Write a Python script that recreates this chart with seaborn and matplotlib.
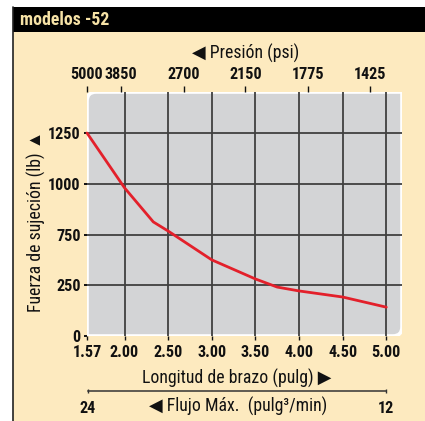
import numpy as np
import pandas as pd
import matplotlib
matplotlib.use("Agg")
import matplotlib.pyplot as plt
import seaborn as sns
from matplotlib.patches import Rectangle, PathPatch
from matplotlib.path import Path

# Clamping force versus arm length
arm_length = [1.57, 2.00, 2.33, 2.50, 3.00, 3.50, 3.75, 4.00, 4.50, 5.00]
clamp_force = [1250, 980, 812, 767, 625, 531, 491, 472, 442, 392]

# Bottom axis (arm length, in)
arm_ticks = [1.57, 2.00, 2.50, 3.00, 3.50, 4.00, 4.50, 5.00]
arm_labels = ["1.57", "2.00", "2.50", "3.00", "3.50", "4.00", "4.50", "5.00"]

# Left axis (force, lb)
force_ticks = [250, 500, 750, 1000, 1250]
force_labels = ["0", "250", "750", "1000", "1250"]

# Top axis: operating pressure at given arm lengths
pressure_pos = [1.57, 1.954, 2.676, 3.386, 4.107, 4.817]
pressure_labels = ["5000", "3850", "2700", "2150", "1775", "1425"]

# Flow scale below the chart
flow_ends = [24, 12]

CREAM = "#fdeabf"
PANEL = "#d3d4d6"
RED = "#e3202b"
GRID = "#404040"
TXT = "#111111"

sns.set_theme(style="white")
FAM = ["Roboto Condensed", "Liberation Sans", "DejaVu Sans"]
plt.rcParams["font.family"] = FAM

W, H = 425, 421
fig = plt.figure(figsize=(W / 100, H / 100), dpi=100)
fig.patch.set_facecolor("white")


def fx(px):
    return px / W


def fy(py):
    return 1 - py / H


# Cream card with black header strip
fig.add_artist(Rectangle((fx(13), 0), 1 - fx(13), fy(32), transform=fig.transFigure,
                         facecolor=CREAM, edgecolor="none", zorder=0))
fig.add_artist(Rectangle((fx(13), fy(32)), 1 - fx(13), fy(7) - fy(32),
                         transform=fig.transFigure, facecolor="black",
                         edgecolor="none", zorder=1))
fig.add_artist(plt.Line2D([fx(13.5), fx(13.5)], [0, fy(7)], transform=fig.transFigure,
                          color="#222222", lw=1.2, zorder=2))
fig.text(fx(20), fy(20), "modelos -52", color="#f6e2a6", fontsize=12.8,
         fontweight="bold", ha="left", va="center", family=FAM)

# Main plot area
L, R, T, B = 87, 402, 92, 336
ax = fig.add_axes([fx(L), fy(B), fx(R) - fx(L), fy(T) - fy(B)])
ax.set_facecolor("none")

# Panel with two rounded corners (top-left, bottom-right)
rx, ry = 9 / (R - L), 9 / (B - T)
verts = [(rx, 1), (1, 1), (1, ry), (1, 0), (1 - rx, 0), (0, 0), (0, 1 - ry),
         (0, 1), (rx, 1), (rx, 1)]
codes = [Path.MOVETO, Path.LINETO, Path.LINETO, Path.CURVE3, Path.CURVE3,
         Path.LINETO, Path.LINETO, Path.CURVE3, Path.CURVE3, Path.CLOSEPOLY]
ax.add_patch(PathPatch(Path(verts, codes), transform=ax.transAxes,
                       facecolor=PANEL, edgecolor="white", lw=2.6, zorder=0))

df = pd.DataFrame({"arm": arm_length, "force": clamp_force})
sns.lineplot(data=df, x="arm", y="force", ax=ax, color=RED, lw=2.0,
             zorder=5, clip_on=False)

ax.set_xlim(1.57, 5.18)
ax.set_ylim(250, 1452)
for s in ax.spines.values():
    s.set_visible(False)

ax.set_xticks(arm_ticks)
ax.set_xticklabels(arm_labels)
ax.set_yticks(force_ticks)
ax.set_yticklabels(force_labels)
ax.tick_params(axis="x", bottom=True, length=3, width=1, color=TXT, pad=3.2,
               labelsize=11.6, labelcolor=TXT)
ax.tick_params(axis="y", left=True, length=2, width=1.4, color=TXT, pad=2.5,
               labelsize=11.6, labelcolor=TXT)
for lab in ax.get_xticklabels() + ax.get_yticklabels():
    lab.set_fontweight("bold")

# Grid lines: interior only
for xv in arm_ticks[1:]:
    ax.axvline(xv, color=GRID, lw=1.3, zorder=2)
for yv in force_ticks[1:]:
    ax.axhline(yv, color=GRID, lw=1.3, zorder=2)
ax.set_xlabel("")
ax.set_ylabel("")

# Top pressure axis
ax_top = ax.twiny()
ax_top.set_xlim(ax.get_xlim())
ax_top.set_xticks(pressure_pos)
ax_top.set_xticklabels(pressure_labels)
ax_top.tick_params(axis="x", top=True, bottom=False, length=4, width=1,
                   color=TXT, pad=3, labelsize=11.6, labelcolor=TXT)
for lab in ax_top.get_xticklabels():
    lab.set_fontweight("bold")
for s in ax_top.spines.values():
    s.set_visible(False)
ax_top.grid(False)

# Axis titles
fig.text(fx(246), fy(53), "\u25C0 Presión (psi)", fontsize=12.8, ha="center",
         va="center", color=TXT, family=FAM)
fig.text(fx(237), fy(378), "Longitud de brazo (pulg) \u25B6", fontsize=12.8,
         ha="center", va="center", color=TXT, family=FAM)
fig.text(fx(36), fy(221), "Fuerza de sujeción (lb) \u25B2", fontsize=12.8,
         ha="center", va="center", rotation=90, color=TXT, family=FAM)

# Flow scale
ax_flow = fig.add_axes([fx(88), fy(391), fx(386) - fx(88), 0.0001])
ax_flow.set_facecolor("none")
ax_flow.set_xlim(flow_ends[0], flow_ends[1])
ax_flow.set_yticks([])
ax_flow.set_xticks(flow_ends)
ax_flow.set_xticklabels([str(v) for v in flow_ends])
for k, s in ax_flow.spines.items():
    s.set_visible(k == "bottom")
ax_flow.spines["bottom"].set_color("#333333")
ax_flow.spines["bottom"].set_linewidth(1.1)
ax_flow.tick_params(axis="x", bottom=True, direction="inout", length=3, width=1,
                    color="#333333", pad=6, labelsize=11.6, labelcolor=TXT)
for lab in ax_flow.get_xticklabels():
    lab.set_fontweight("bold")
fig.text(fx(238), fy(406), "\u25C0 Flujo Máx.  (pulg\u00B3/min)", fontsize=12.8,
         ha="center", va="center", color=TXT, family=FAM)

fig.savefig("out.png", dpi=100, facecolor=fig.get_facecolor())
